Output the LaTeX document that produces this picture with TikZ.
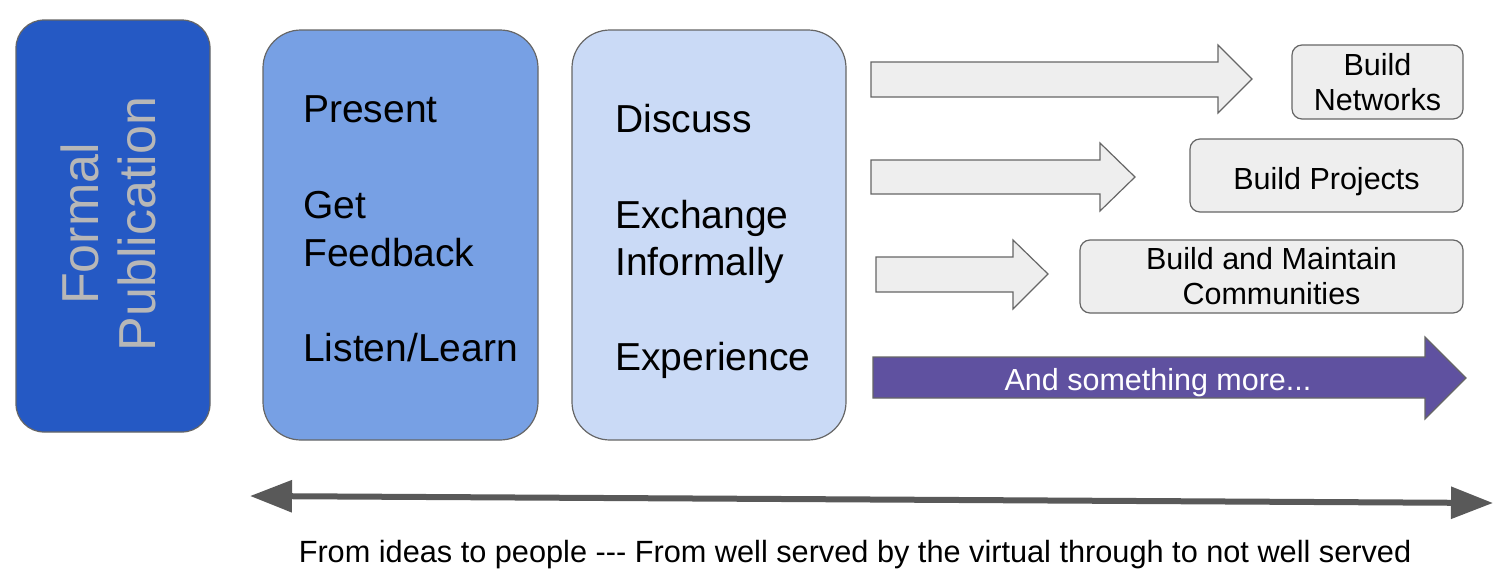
\documentclass[tikz,border=0pt]{standalone}
\usepackage{fontspec}
\setmainfont{Liberation Sans}
\usetikzlibrary{arrows.meta}
\definecolor{dblue}{HTML}{2559C4}
\definecolor{mblue}{HTML}{77A0E4}
\definecolor{lblue}{HTML}{CADAF6}
\definecolor{lgray}{HTML}{EEEEEE}
\definecolor{bgray}{HTML}{666666}
\definecolor{purp}{HTML}{5F51A0}
\definecolor{tgray}{HTML}{B7B7B7}
\definecolor{agray}{HTML}{595959}
\tikzset{
  bigbox/.style={draw=bgray, line width=1.2pt, rounded corners=38pt},
  outbox/.style={draw=bgray, fill=lgray, line width=1.2pt, rounded corners=10pt, align=center,
    font=\fontsize{30.5}{35}\selectfont, inner sep=0pt},
  blockarrow/.style={draw=bgray, fill=lgray, line width=1.2pt, line join=miter},
  listtxt/.style={anchor=base west, font=\fontsize{39}{44}\selectfont, inner sep=0pt},
}
\begin{document}
\begin{tikzpicture}[x=1pt,y=-1pt]
\useasboundingbox (0,0) rectangle (1500,587);
% big boxes
\draw[bigbox, fill=dblue, rounded corners=28pt] (16,20) rectangle (210,432);
\node[rotate=90, text=tgray, align=center, font=\fontsize{52}{57}\selectfont] (formal) at (108,224) {Formal\\Publication};
\draw[bigbox, fill=mblue] (263,30) rectangle (538,440);
\draw[bigbox, fill=lblue] (572,30) rectangle (846,440);
\node[listtxt] (present) at (303,122) {Present};
\node[listtxt] (get) at (303,218) {Get};
\node[listtxt] (feed) at (303,266) {Feedback};
\node[listtxt] (listen) at (303,361) {Listen/Learn};
\node[listtxt] (discuss) at (615,132) {Discuss};
\node[listtxt] (exch) at (615,228) {Exchange};
\node[listtxt] (inform) at (615,275) {Informally};
\node[listtxt] (exper) at (615,370) {Experience};
% block arrows
\draw[blockarrow] (871,62) -- (1218,62) -- (1218,45) -- (1252,79) -- (1218,113) -- (1218,97) -- (871,97) -- cycle;
\draw[blockarrow] (871,160) -- (1100,160) -- (1100,143) -- (1135,177) -- (1100,211) -- (1100,194) -- (871,194) -- cycle;
\draw[blockarrow] (876,257) -- (1013,257) -- (1013,240) -- (1048,274) -- (1013,309) -- (1013,292) -- (876,292) -- cycle;
\draw[draw=bgray, fill=purp, line width=1.2pt] (873,357) -- (1425,357) -- (1425,337) -- (1466,378) -- (1425,419) -- (1425,398) -- (873,398) -- cycle;
\node[text=white, font=\fontsize{30.5}{34}\selectfont] (more) at (1158,383) {And something more...};
% outcome boxes
\node[outbox, minimum width=171pt, minimum height=74pt] (net) at (1377.5,82) {Build\\Networks};
\node[outbox, minimum width=273pt, minimum height=73pt, text height=27pt, text depth=0pt] (proj) at (1326.5,175.5) {Build Projects};
\node[outbox, minimum width=383pt, minimum height=73pt] (comm) at (1271.5,276.5) {Build and Maintain\\Communities};
% double arrow
\coordinate (L) at (250,496);
\coordinate (R) at (1493,503);
\draw[agray, line width=6pt, {Triangle[length=42pt,width=31pt]}-{Triangle[length=42pt,width=31pt]}] (L) -- (R);
\node[anchor=base, inner sep=0pt, font=\fontsize{30.7}{34}\selectfont] (cap) at (855,562) {From ideas to people -{}-{}- From well served by the virtual through to not well served};
\end{tikzpicture}
\end{document}
